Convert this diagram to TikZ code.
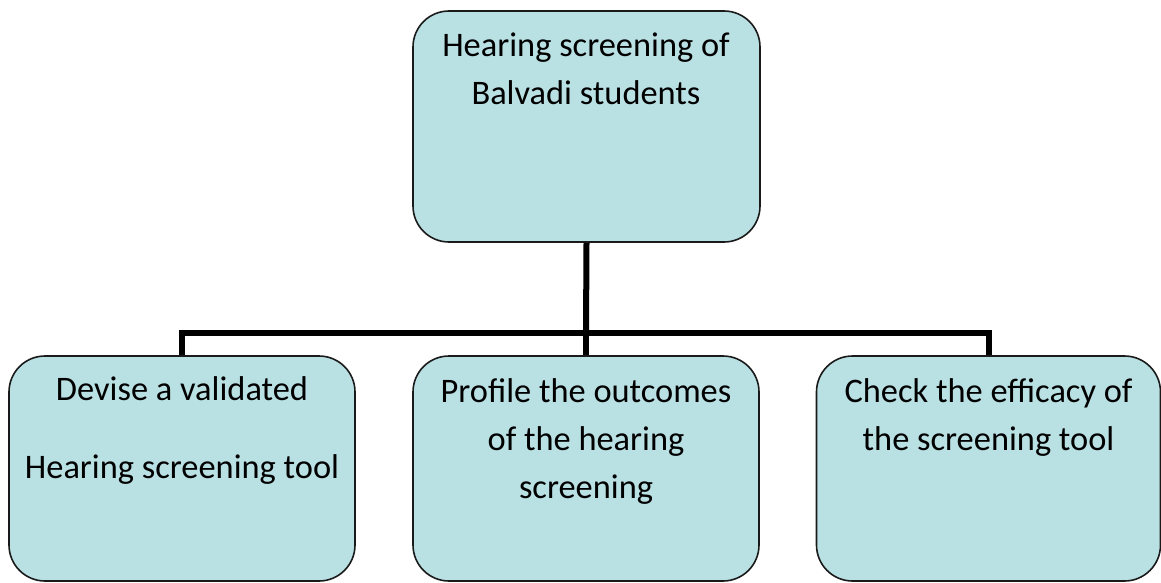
\documentclass[tikz,border=0pt]{standalone}
\usepackage{fontspec}
\setmainfont{Carlito}
\definecolor{boxfill}{HTML}{B9E0E3}
\definecolor{boxline}{HTML}{1A1A1A}
\tikzset{
  box/.style={draw=boxline, line width=1.6pt, fill=boxfill, rounded corners=36pt, inner sep=0pt},
  txt/.style={anchor=base, font=\fontsize{34.4}{41}\selectfont, inner sep=0pt, text=black},
  conn/.style={draw=black, line width=6pt, line join=miter}
}
\begin{document}
\begin{tikzpicture}[x=1pt,y=-1pt]
\useasboundingbox (0,0) rectangle (1161,583);
% boxes
\node[box, minimum width=347pt, minimum height=231pt] (top) at (586.5,126.5) {};
\node[box, minimum width=346pt, minimum height=225pt] (left) at (182,468.5) {};
\node[box, minimum width=346pt, minimum height=225pt] (mid) at (586,468.5) {};
\node[box, minimum width=344pt, minimum height=225pt] (right) at (988.5,468.5) {};
% connectors
\coordinate (j) at (586,333);
\draw[conn] (top.south) -- (j);
\draw[conn] (left.north) |- (j) -| (right.north);
\draw[conn] (j) -- (mid.north);
% texts
\node[txt] (t1) at (586,57) {Hearing screening of};
\node[txt] (t2) at (586,105) {Balvadi students};
\node[txt] (l1) at (182,400) {Devise a validated};
\node[txt] (l2) at (182,478) {Hearing screening tool};
\node[txt] (m1) at (586,402) {Profile the outcomes};
\node[txt] (m2) at (586,450) {of the hearing};
\node[txt] (m3) at (586,498) {screening};
\node[txt] (r1) at (988.5,402) {Check the efficacy of};
\node[txt] (r2) at (988.5,450) {the screening tool};
\end{tikzpicture}
\end{document}
